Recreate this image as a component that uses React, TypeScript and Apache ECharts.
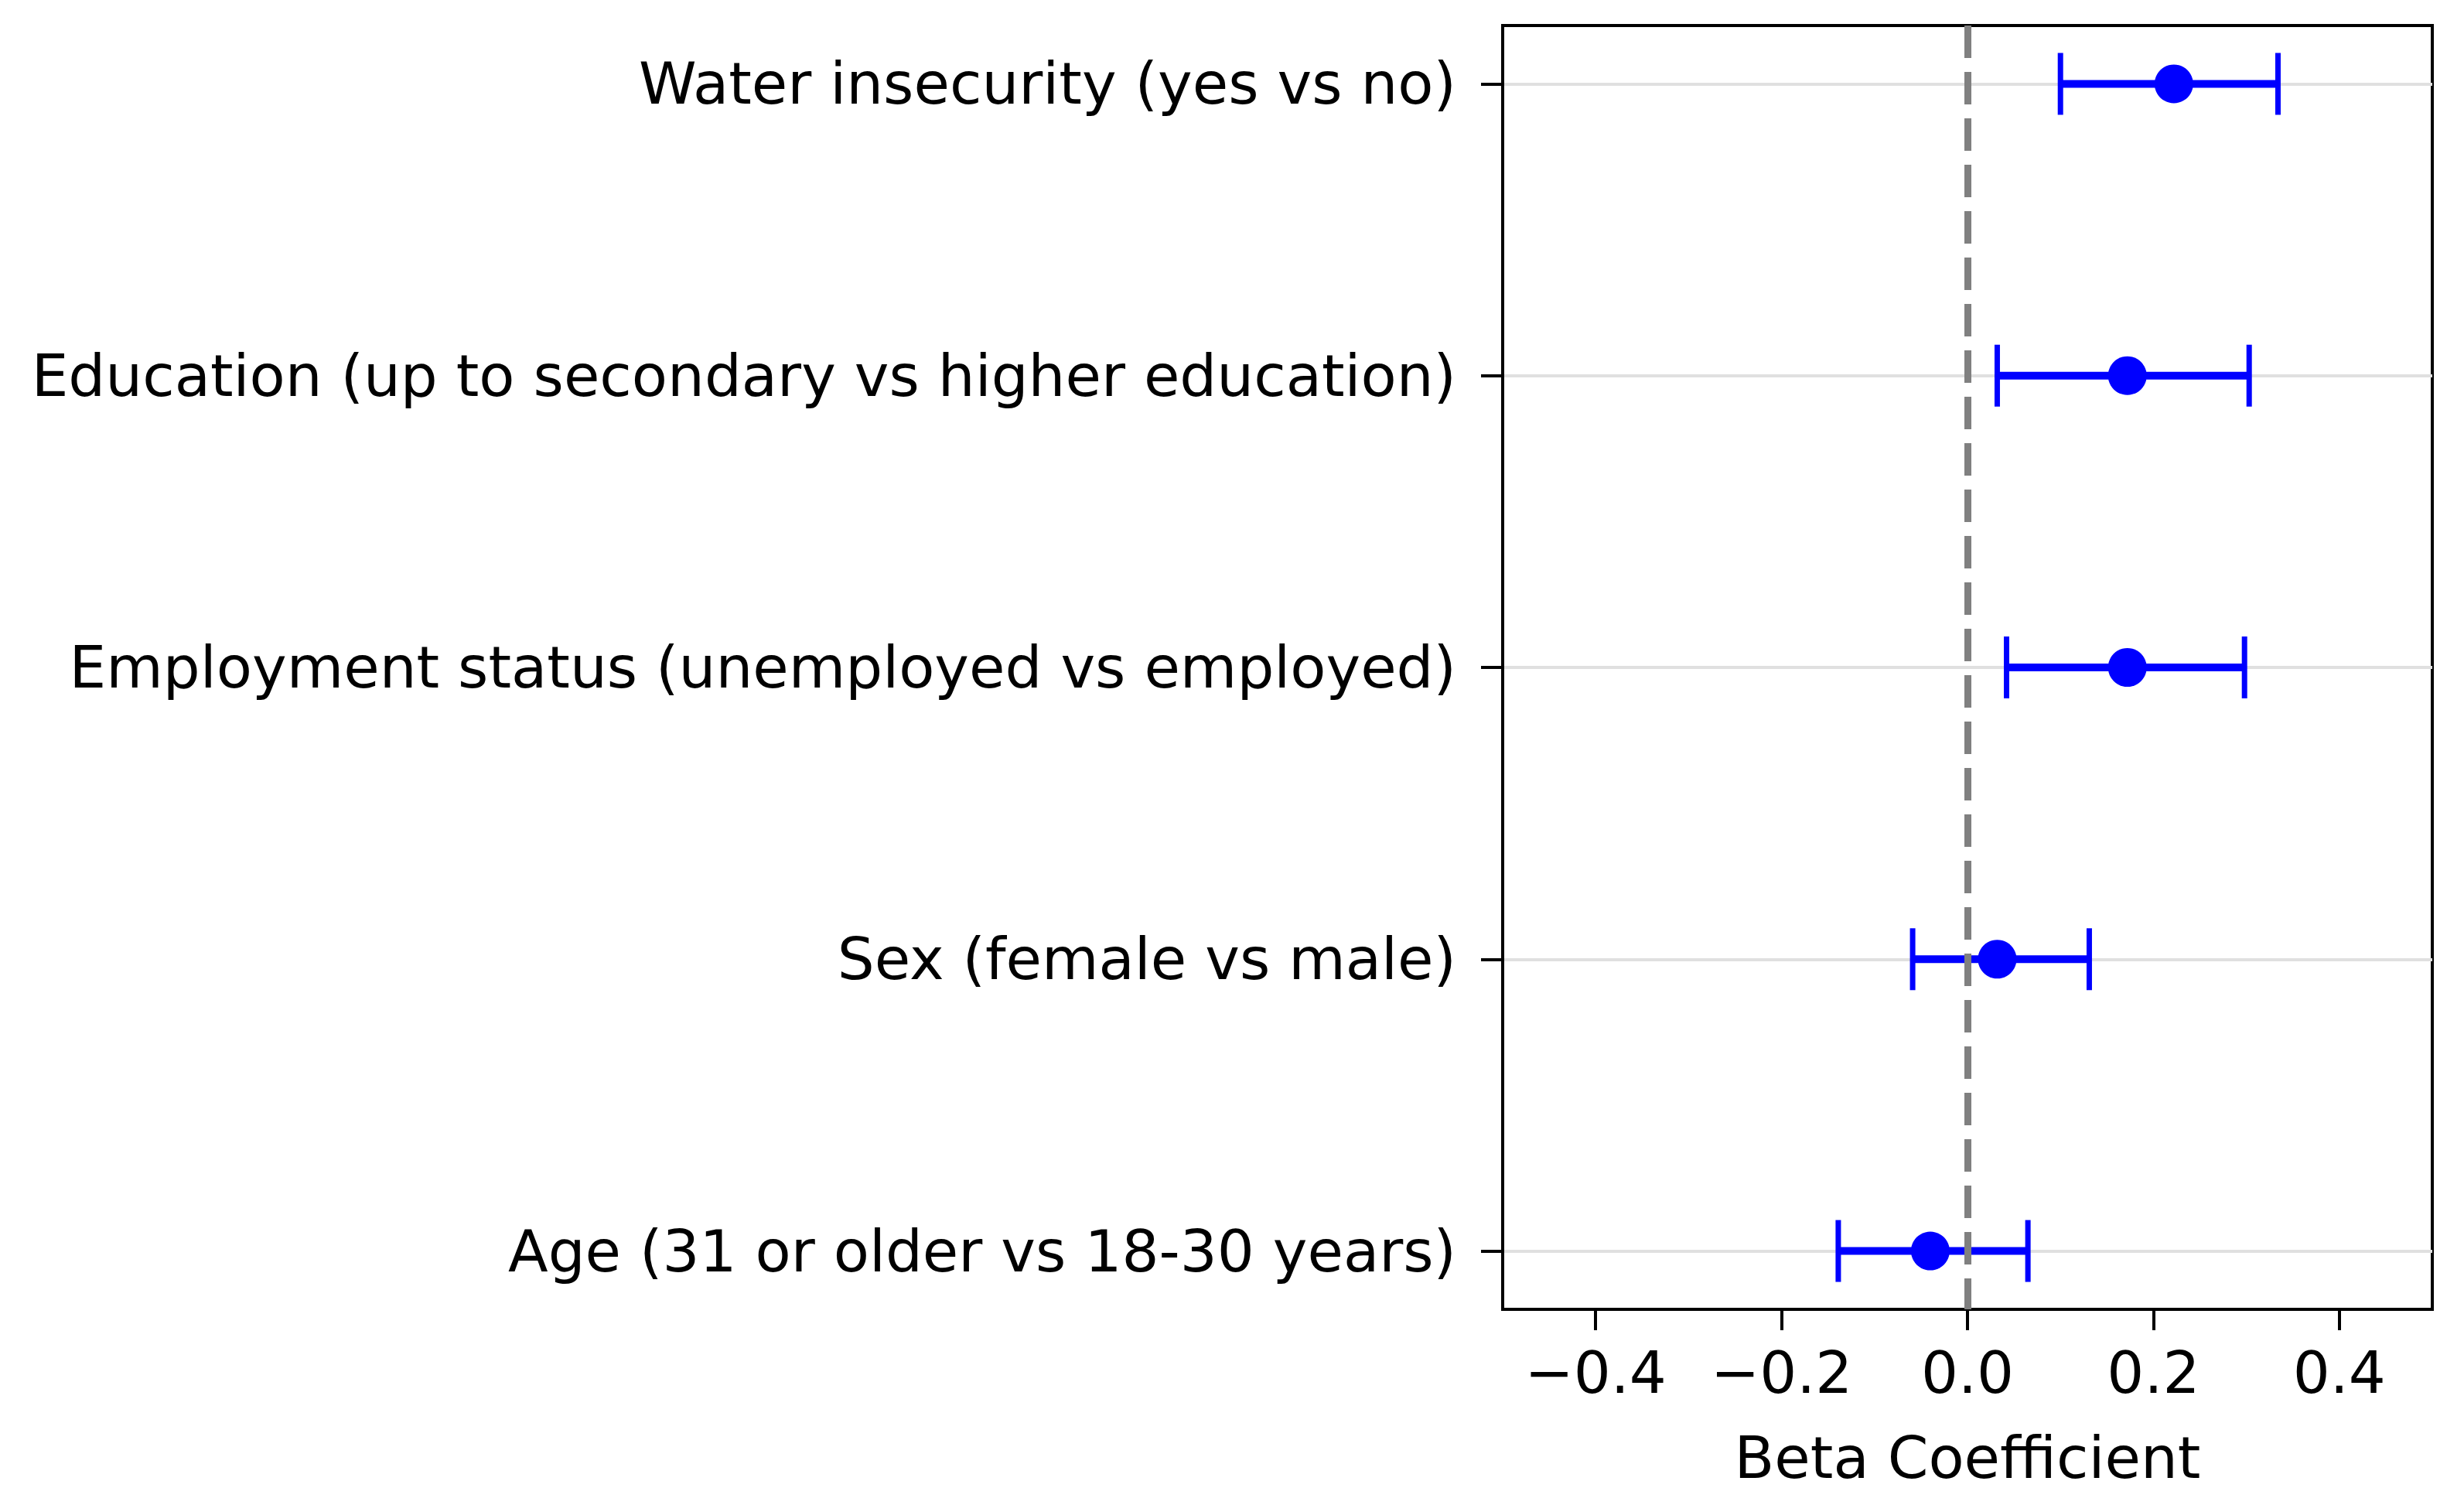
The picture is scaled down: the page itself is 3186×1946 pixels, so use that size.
import React, { useEffect, useRef } from 'react';
import * as echarts from 'echarts';

const categories = [
  'Water insecurity (yes vs no)',
  'Education (up to secondary vs higher education)',
  'Employment status (unemployed vs employed)',
  'Sex (female vs male)',
  'Age (31 or older vs 18-30 years)',
];
const betas = [0.222, 0.172, 0.172, 0.032, -0.04];
const lowerCI = [0.1, 0.032, 0.042, -0.059, -0.139];
const upperCI = [0.334, 0.303, 0.298, 0.131, 0.065];
const xTicks = [-0.4, -0.2, 0, 0.2, 0.4];
const yPositions = [0, 1, 2, 3, 4];

const FONT = 'DejaVu Sans';
const FS = 75.5;

export default function App() {
  const ref = useRef<HTMLDivElement>(null);
  useEffect(() => {
    if (!ref.current) return;
    const chart = echarts.init(ref.current, undefined, { renderer: 'svg' });
    const fmtX = (v: number) => {
      const s = Math.abs(v).toFixed(1);
      return v < -1e-9 ? '\u2212' + s : s;
    };
    chart.setOption({
      animation: false,
      backgroundColor: '#ffffff',
      grid: {
        left: 1943,
        right: 41,
        top: 33,
        bottom: 253,
        show: true,
        borderColor: '#000000',
        borderWidth: 4,
        backgroundColor: 'transparent',
      },
      xAxis: {
        type: 'value',
        min: -0.5,
        max: 0.5,
        axisLine: { show: true, onZero: false, lineStyle: { color: '#000', width: 4 } },
        axisTick: { show: true, customValues: xTicks, length: 27, lineStyle: { color: '#000', width: 4 } },
        axisLabel: {
          customValues: xTicks,
          formatter: fmtX,
          fontFamily: FONT,
          fontSize: FS,
          color: '#000',
          margin: 44,
        },
        splitLine: { show: false },
        name: 'Beta Coefficient',
        nameLocation: 'middle',
        nameGap: 154,
        nameTextStyle: { fontFamily: FONT, fontSize: FS, color: '#000' },
      },
      yAxis: {
        type: 'value',
        inverse: true,
        min: -0.2,
        max: 4.2,
        axisLine: { show: true, onZero: false, lineStyle: { color: '#000', width: 4 } },
        axisTick: { show: true, customValues: yPositions, length: 28, lineStyle: { color: '#000', width: 4 } },
        axisLabel: {
          customValues: yPositions,
          formatter: (v: number) => categories[Math.round(v)] ?? '',
          fontFamily: FONT,
          fontSize: FS,
          color: '#000',
          margin: 60,
          padding: [6, 0, 0, 0],
        },
        splitLine: { show: true, lineStyle: { color: '#e0e0e0', width: 4 } },
      },
      series: [
        {
          type: 'custom',
          z: 2,
          encode: { x: [1, 2], y: 0 },
          data: categories.map((_, i) => [yPositions[i], lowerCI[i], upperCI[i]]),
          renderItem: (params: any, api: any) => {
            const y = api.value(0);
            const lo = api.value(1);
            const hi = api.value(2);
            const p1 = api.coord([lo, y]);
            const p2 = api.coord([hi, y]);
            const cap = 40;
            const st = { stroke: '#0000ff', lineWidth: 10 };
            const cs = { stroke: '#0000ff', lineWidth: 7 };
            return {
              type: 'group',
              children: [
                { type: 'line', shape: { x1: p1[0], y1: p1[1], x2: p2[0], y2: p2[1] }, style: st },
                { type: 'line', shape: { x1: p1[0], y1: p1[1] - cap, x2: p1[0], y2: p1[1] + cap }, style: cs },
                { type: 'line', shape: { x1: p2[0], y1: p2[1] - cap, x2: p2[0], y2: p2[1] + cap }, style: cs },
              ],
            };
          },
          markLine: {
            silent: true,
            z: 5,
            symbol: ['none', 'none'],
            label: { show: false },
            lineStyle: { color: '#808080', type: [42, 18], width: 9, opacity: 1 },
            data: [{ xAxis: 0 }],
          },
        },
        {
          type: 'scatter',
          z: 10,
          symbol: 'circle',
          symbolSize: 50,
          itemStyle: { color: '#0000ff', opacity: 1 },
          data: betas.map((b, i) => [b, yPositions[i]]),
        },
      ],
    });
    return () => chart.dispose();
  }, []);
  return (
    <div
      ref={ref}
      style={{ position: 'absolute', left: 0, top: 0, width: 3186, height: 1946 }}
    />
  );
}
